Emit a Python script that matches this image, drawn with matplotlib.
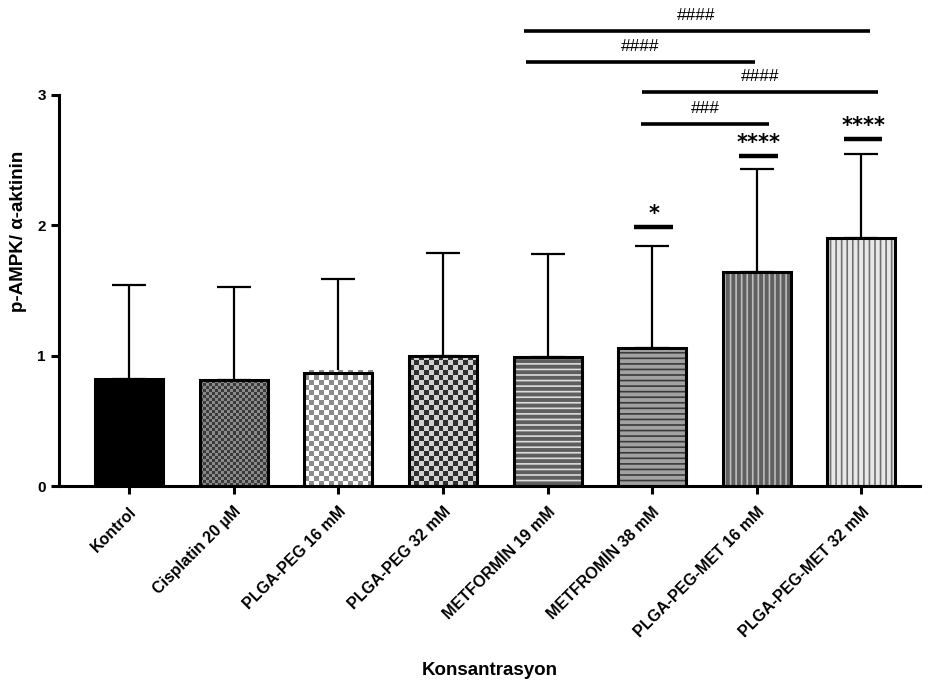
import numpy as np
import matplotlib
matplotlib.use("Agg")
from matplotlib import pyplot as plt

plt.rcParams['font.family'] = ['Liberation Sans', 'DejaVu Sans']
plt.rcParams['hatch.linewidth'] = 1.2

groups = ['Kontrol', 'Cisplatin 20 µM', 'PLGA-PEG 16 mM', 'PLGA-PEG 32 mM',
          'METFORMİN 19 mM', 'METFROMİN 38 mM', 'PLGA-PEG-MET 16 mM',
          'PLGA-PEG-MET 32 mM']
means = [0.82, 0.81, 0.87, 1.00, 0.99, 1.06, 1.64, 1.90]
err_top = [1.54, 1.53, 1.59, 1.79, 1.78, 1.84, 2.43, 2.55]

# significance vs Kontrol: (bar index, label, y)
stars = [(5, '*', 1.99), (6, '****', 2.53), (7, '****', 2.66)]
# comparison lines: (x0, x1, y, label)
brackets = [(3.77, 7.08, 3.49, '####'),
            (3.79, 5.98, 3.25, '####'),
            (4.90, 7.16, 3.02, '####'),
            (4.89, 6.12, 2.78, '###')]

# fill styles: ('solid', c) / ('check', c1, c2, cell px) / ('hatch', face, line, hatch)
styles = [('solid', '#000000'),
          ('check', '#3a3a3a', '#8a8a8a', 3),
          ('check', '#ffffff', '#8c8c8c', 5),
          ('check', '#2e2e2e', '#d0d0d0', 5),
          ('hatch', '#5e5e5e', '#dddddd', '---'),
          ('hatch', '#a2a2a2', '#3a3a3a', '---'),
          ('hatch', '#606060', '#bdbdbd', '|||'),
          ('hatch', '#e8e8e8', '#707070', '|||')]

W, H = 932, 682
fig = plt.figure(figsize=(W / 100, H / 100), dpi=100)
ax = fig.add_axes([59 / W, (H - 486) / H, (920 - 59) / W, (486 - 95) / H])
ax.set_xlim(-0.67, 7.56)
ax.set_ylim(0, 3)

x = np.arange(len(groups))
bw = 0.65
px_x = (920 - 59) / (7.56 + 0.67)
px_y = (486 - 95) / 3.0

for i, st in enumerate(styles):
    if st[0] == 'solid':
        ax.bar(x[i], means[i], bw, color=st[1], edgecolor='black', linewidth=2.2, zorder=3)
    elif st[0] == 'hatch':
        ax.bar(x[i], means[i], bw, color=st[1], edgecolor=st[2], hatch=st[3],
               linewidth=0, zorder=2)
        ax.bar(x[i], means[i], bw, fill=False, edgecolor='black', linewidth=2.2, zorder=3)
    else:
        c1 = np.array(matplotlib.colors.to_rgb(st[1]))
        c2 = np.array(matplotlib.colors.to_rgb(st[2]))
        cell = st[3]
        nx = int(round(bw * px_x / cell))
        ny = max(1, int(round(means[i] * px_y / cell)))
        ii, jj = np.indices((ny, nx))
        mask = ((ii + jj) % 2 == 0)[..., None]
        img = np.where(mask, c1, c2)
        b = ax.bar(x[i], means[i], bw, fill=False, edgecolor='black', linewidth=2.2, zorder=3)
        ax.imshow(img, extent=(x[i] - bw / 2, x[i] + bw / 2, 0, ny * cell / px_y),
                  aspect='auto', interpolation='nearest', zorder=2,
                  clip_path=b.patches[0], clip_on=True)

ax.set_xlim(-0.67, 7.56)
ax.set_ylim(0, 3)

# one-sided error bars
for i in range(len(groups)):
    ax.errorbar(x[i], means[i], yerr=[[0], [err_top[i] - means[i]]], fmt='none',
                ecolor='black', elinewidth=1.6, capsize=12.5, capthick=1.6, zorder=1)

for i, lab, y in stars:
    ax.plot([x[i] - 0.17, x[i] + 0.2], [y, y], color='black', lw=3.2,
            clip_on=False, solid_capstyle='butt')
    ax.text(x[i] + 0.02, y + 0.1, lab, ha='center', va='center', fontsize=15,
            fontweight='bold', family='DejaVu Sans', clip_on=False)

for x0, x1, y, lab in brackets:
    ax.plot([x0, x1], [y, y], color='black', lw=2.6, clip_on=False, solid_capstyle='butt')
    ax.text((x0 + x1) / 2, y + 0.12, lab, ha='center', va='center', fontsize=12.5,
            clip_on=False)

for s in ['top', 'right']:
    ax.spines[s].set_visible(False)
for s in ['left', 'bottom']:
    ax.spines[s].set_linewidth(2.2)

ax.set_yticks([0, 1, 2, 3])
ax.set_xticks(x)
ax.set_xticklabels(groups, rotation=45, ha='right', rotation_mode='anchor',
                   fontsize=11.5, fontweight='bold')
ax.tick_params(axis='both', length=6, width=2.2, labelsize=11)
for t in ax.get_yticklabels():
    t.set_fontweight('bold')
ax.tick_params(axis='x', pad=7, labelsize=11.5)

ax.set_ylabel('p-AMPK/ α-aktinin', fontsize=13.5, fontweight='bold')
ax.yaxis.set_label_coords(-0.037, 0.652)
ax.set_xlabel('Konsantrasyon', fontsize=13.5, fontweight='bold')
ax.xaxis.set_label_coords(0.5, -(662 - 486) / 391)

fig.savefig('out.png', dpi=100)
